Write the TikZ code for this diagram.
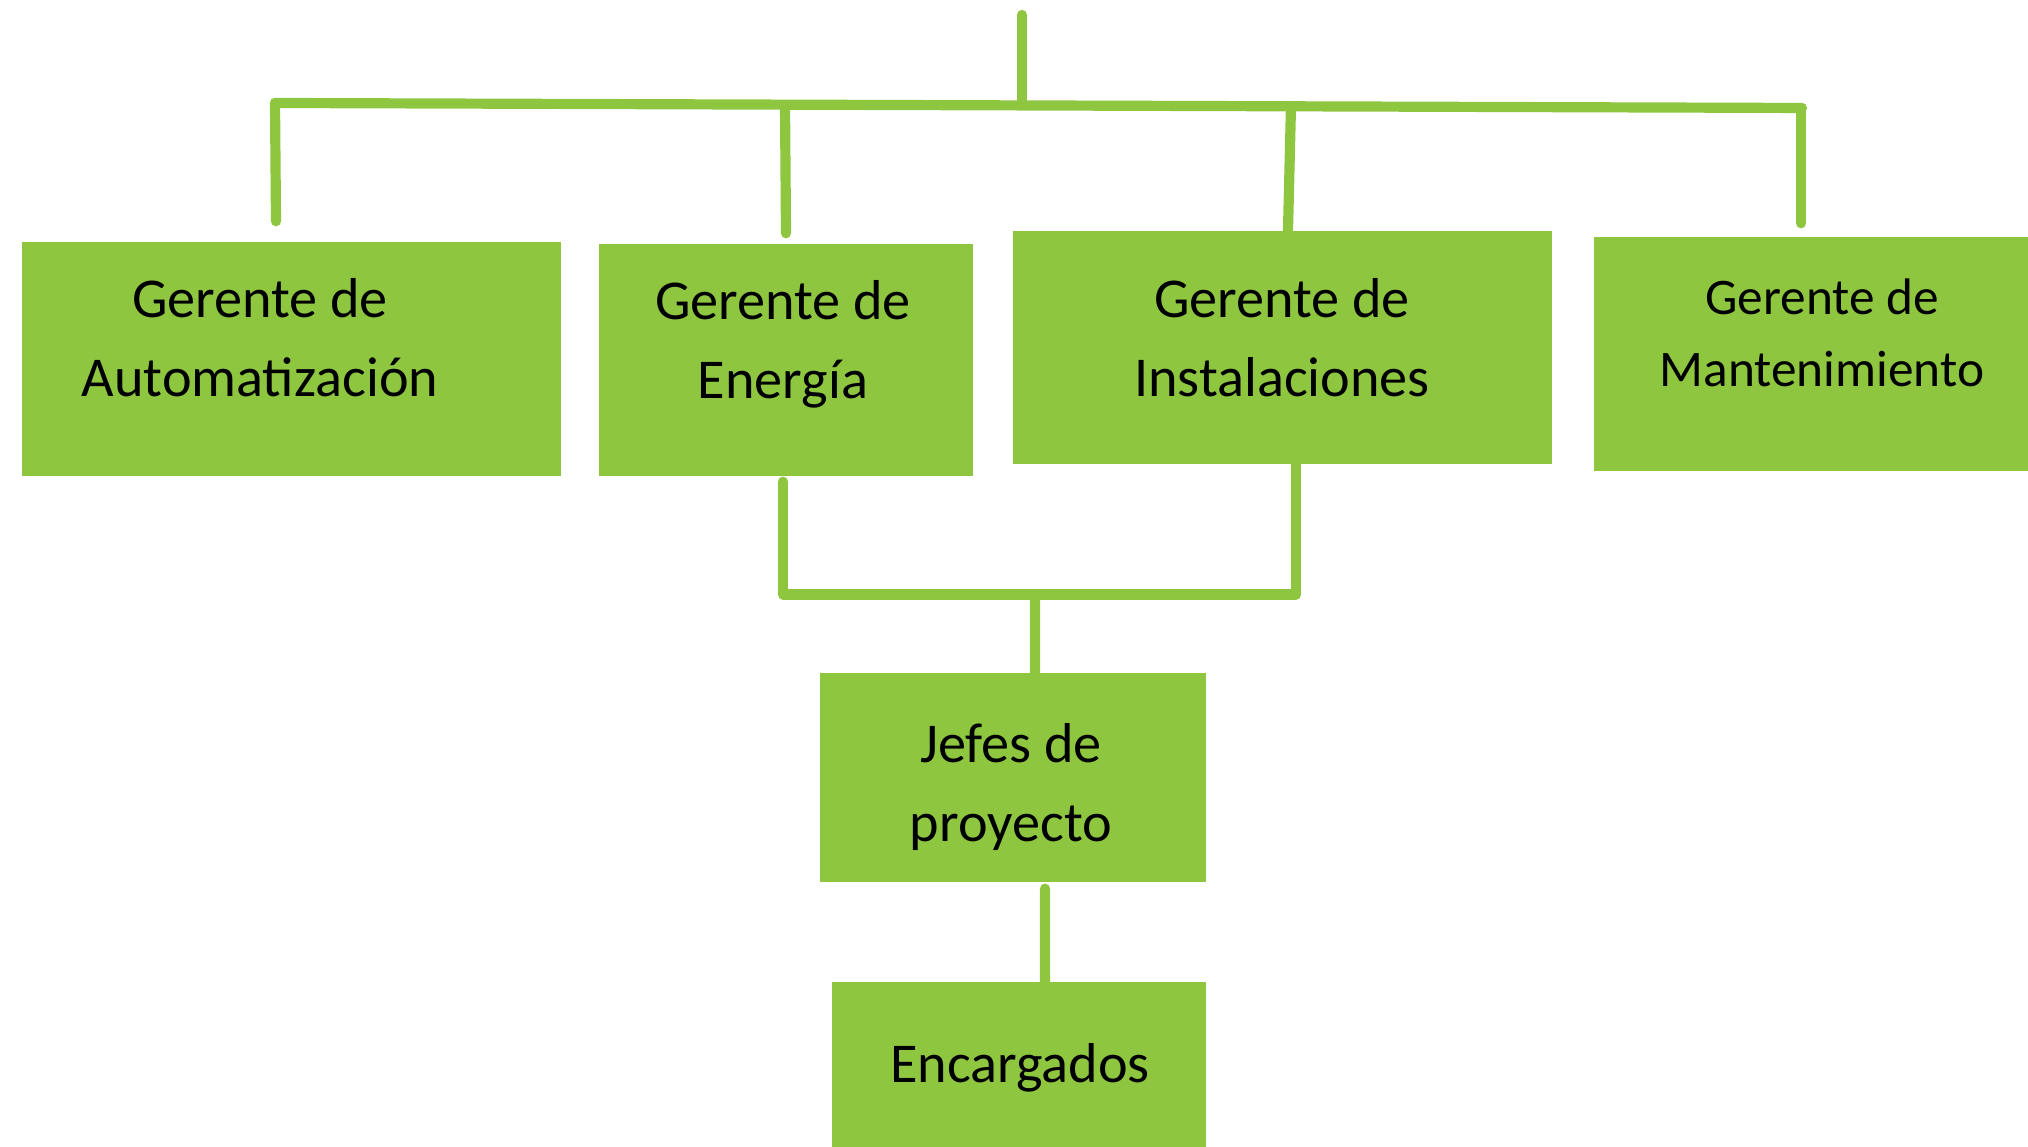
\documentclass[tikz,border=0pt]{standalone}
\usepackage{fontspec}
\setmainfont{Carlito}
\usepackage{tikz}
\definecolor{orggreen}{RGB}{142,198,64}

\begin{document}
\begin{tikzpicture}[
  puesto/.style={rectangle, fill=orggreen, inner sep=0pt},
  rotulo/.style={align=center, inner sep=0pt, font=\fontsize{16}{22.5}\selectfont},
  linea/.style={draw=orggreen, line width=2.9pt, line cap=round, line join=round}
]
\useasboundingbox (0,0) rectangle (20.28,11.47);

% Boxes of the first level
\node[puesto, minimum width=5.39cm, minimum height=2.34cm] (auto) at (2.915,7.88) {};
\node[puesto, minimum width=3.74cm, minimum height=2.32cm] (ener) at (7.86,7.87) {};
\node[puesto, minimum width=5.39cm, minimum height=2.33cm] (inst) at (12.825,7.995) {};
\node[puesto, minimum width=4.34cm, minimum height=2.34cm] (mant) at (18.11,7.93) {};

% Lower levels
\node[puesto, minimum width=3.86cm, minimum height=2.09cm] (jefe) at (10.13,3.695) {};
\node[puesto, minimum width=3.74cm, minimum height=1.65cm] (enca) at (10.19,0.825) {};

% Texts
\node[rotulo] (autot) at (2.60,8.09) {Gerente de\\Automatización};
\node[rotulo] (enert) at (7.83,8.03) {Gerente de\\Energía};
\node[rotulo] (instt) at (12.82,8.09) {Gerente de\\Instalaciones};
\node[rotulo, font=\fontsize{14.6}{20.5}\selectfont] (mantt) at (18.22,8.14) {Gerente de\\Mantenimiento};
\node[rotulo] (jefet) at (10.11,3.60) {Jefes de\\proyecto};
\node[rotulo] (encat) at (10.20,0.795) {Encargados};

% Top bar
\coordinate (top) at (10.22,11.32);
\coordinate (hub) at (10.22,10.42);
\coordinate (barL) at (2.75,10.44);
\coordinate (barR) at (18.02,10.39);
\coordinate (n2) at (7.85,10.42);
\coordinate (n3) at (12.91,10.41);
\coordinate (n4) at (18.01,10.39);
\draw[linea] (top) -- (hub);
\draw[linea] (barL) -- (barR);
\draw[linea] (barL) -- ([shift={(-0.155,0.20)}]auto.north);
\draw[linea] (n2) -- ([yshift=0.10cm]ener.north);
\draw[linea] (n3) -- ([xshift=0.055cm]inst.north);
\draw[linea] (n4) -- ([shift={(-0.10,0.13)}]mant.north);

% Join below
\coordinate (join) at (10.35,5.525);
\draw[linea] ([shift={(-0.03,-0.05)}]ener.south) |- (join) -| ([xshift=0.135cm]inst.south);
\draw[linea] (join) -- ([xshift=0.22cm]jefe.north);
\draw[linea] ([shift={(0.32,-0.06)}]jefe.south) -- ([xshift=0.26cm]enca.north);

\end{tikzpicture}
\end{document}
